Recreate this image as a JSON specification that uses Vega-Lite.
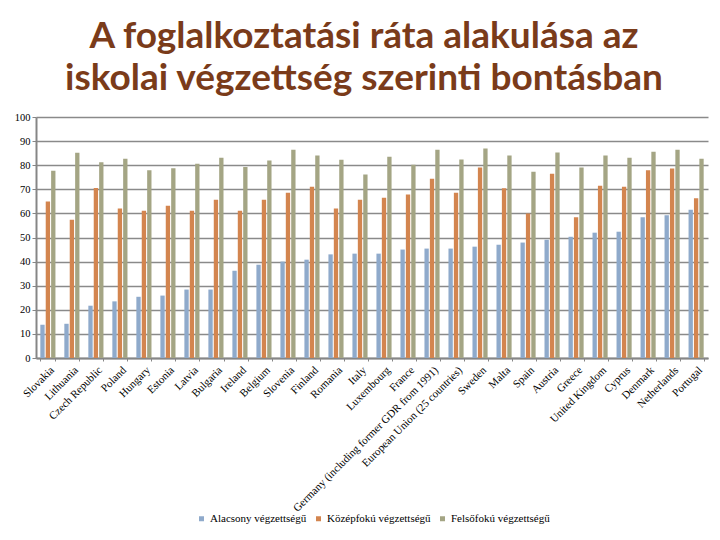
{
  "$schema": "https://vega.github.io/schema/vega-lite/v6.json",
  "width": 672,
  "height": 241,
  "autosize": {"type": "none"},
  "padding": {"left": 36, "top": 117, "right": 12, "bottom": 182},
  "background": "white",
  "title": {
    "text": ["A foglalkoztatási ráta alakulása az", "iskolai végzettség szerinti bontásban"],
    "font": "Lato",
    "fontWeight": "bold",
    "fontSize": 37,
    "color": "#7A3B1A",
    "anchor": "middle",
    "frame": "group",
    "dx": -8,
    "offset": 14,
    "lineHeight": 42
  },
  "data": {
    "values": [
      {"country": "Slovakia", "Alacsony végzettségű": 13.8, "Középfokú végzettségű": 64.9, "Felsőfokú végzettségű": 77.7},
      {"country": "Lithuania", "Alacsony végzettségű": 14.2, "Középfokú végzettségű": 57.4, "Felsőfokú végzettségű": 85.2},
      {"country": "Czech Republic", "Alacsony végzettségű": 21.7, "Középfokú végzettségű": 70.5, "Felsőfokú végzettségű": 81.2},
      {"country": "Poland", "Alacsony végzettségű": 23.5, "Középfokú végzettségű": 62.0, "Felsőfokú végzettségű": 82.7},
      {"country": "Hungary", "Alacsony végzettségű": 25.4, "Középfokú végzettségű": 61.1, "Felsőfokú végzettségű": 77.9},
      {"country": "Estonia", "Alacsony végzettségű": 25.9, "Középfokú végzettségű": 63.2, "Felsőfokú végzettségű": 78.7},
      {"country": "Latvia", "Alacsony végzettségű": 28.4, "Középfokú végzettségű": 61.1, "Felsőfokú végzettségű": 80.6},
      {"country": "Bulgaria", "Alacsony végzettségű": 28.4, "Középfokú végzettségű": 65.7, "Felsőfokú végzettségű": 83.1},
      {"country": "Ireland", "Alacsony végzettségű": 36.2, "Középfokú végzettségű": 61.1, "Felsőfokú végzettségű": 79.3},
      {"country": "Belgium", "Alacsony végzettségű": 38.7, "Középfokú végzettségű": 65.7, "Felsőfokú végzettségű": 81.9},
      {"country": "Slovenia", "Alacsony végzettségű": 40.0, "Középfokú végzettségű": 68.6, "Felsőfokú végzettségű": 86.4},
      {"country": "Finland", "Alacsony végzettségű": 40.8, "Középfokú végzettségű": 71.1, "Felsőfokú végzettségű": 84.0},
      {"country": "Romania", "Alacsony végzettségű": 43.0, "Középfokú végzettségű": 62.0, "Felsőfokú végzettségű": 82.3},
      {"country": "Italy", "Alacsony végzettségű": 43.3, "Középfokú végzettségű": 65.7, "Felsőfokú végzettségű": 76.1},
      {"country": "Luxembourg", "Alacsony végzettségű": 43.3, "Középfokú végzettségű": 66.5, "Felsőfokú végzettségű": 83.5},
      {"country": "France", "Alacsony végzettségű": 45.0, "Középfokú végzettségű": 67.8, "Felsőfokú végzettségű": 80.2},
      {"country": "Germany (including  former GDR from 1991)", "Alacsony végzettségű": 45.4, "Középfokú végzettségű": 74.4, "Felsőfokú végzettségű": 86.4},
      {"country": "European Union (25 countries)", "Alacsony végzettségű": 45.4, "Középfokú végzettségű": 68.6, "Felsőfokú végzettségű": 82.4},
      {"country": "Sweden", "Alacsony végzettségű": 46.2, "Középfokú végzettségű": 79.0, "Felsőfokú végzettségű": 86.9},
      {"country": "Malta", "Alacsony végzettségű": 47.0, "Középfokú végzettségű": 70.4, "Felsőfokú végzettségű": 84.0},
      {"country": "Spain", "Alacsony végzettségű": 47.9, "Középfokú végzettségű": 60.0, "Felsőfokú végzettségű": 77.3},
      {"country": "Austria", "Alacsony végzettségű": 49.1, "Középfokú végzettségű": 76.5, "Felsőfokú végzettségű": 85.3},
      {"country": "Greece", "Alacsony végzettségű": 50.3, "Középfokú végzettségű": 58.4, "Felsőfokú végzettségű": 79.0},
      {"country": "United Kingdom", "Alacsony végzettségű": 52.0, "Középfokú végzettségű": 71.5, "Felsőfokú végzettségű": 84.0},
      {"country": "Cyprus", "Alacsony végzettségű": 52.4, "Középfokú végzettségű": 71.1, "Felsőfokú végzettségű": 83.1},
      {"country": "Denmark", "Alacsony végzettségű": 58.4, "Középfokú végzettségű": 77.9, "Felsőfokú végzettségű": 85.6},
      {"country": "Netherlands", "Alacsony végzettségű": 59.2, "Középfokú végzettségű": 78.6, "Felsőfokú végzettségű": 86.4},
      {"country": "Portugal", "Alacsony végzettségű": 61.5, "Középfokú végzettségű": 66.3, "Felsőfokú végzettségű": 82.7}
    ]
  },
  "transform": [
    {"fold": ["Alacsony végzettségű", "Középfokú végzettségű", "Felsőfokú végzettségű"], "as": ["group", "value"]}
  ],
  "mark": {"type": "bar"},
  "encoding": {
    "x": {
      "field": "country",
      "type": "nominal",
      "sort": null,
      "title": null,
      "scale": {"paddingInner": 0.37, "paddingOuter": 0.18},
      "axis": {
        "labelAngle": -45,
        "labelFont": "Liberation Serif",
        "labelFontSize": 11,
        "labelColor": "#000000",
        "labelLimit": 400,
        "labelPadding": 3,
        "tickBand": "extent",
        "tickSize": 3,
        "tickColor": "#868686",
        "domainColor": "#868686",
        "domainWidth": 2,
        "grid": false
      }
    },
    "xOffset": {
      "field": "group",
      "type": "nominal",
      "sort": ["Alacsony végzettségű", "Középfokú végzettségű", "Felsőfokú végzettségű"],
      "scale": {"paddingInner": 0.2}
    },
    "y": {
      "field": "value",
      "type": "quantitative",
      "title": null,
      "scale": {"domain": [0, 100]},
      "axis": {
        "values": [0, 10, 20, 30, 40, 50, 60, 70, 80, 90, 100],
        "labelFont": "Liberation Serif",
        "labelFontSize": 10.5,
        "labelColor": "#000000",
        "tickSize": 4,
        "tickColor": "#868686",
        "domainColor": "#868686",
        "domainWidth": 2,
        "gridColor": "#8A8A8A",
        "gridWidth": 1.5,
        "gridOpacity": 1
      }
    },
    "color": {
      "field": "group",
      "type": "nominal",
      "sort": ["Alacsony végzettségű", "Középfokú végzettségű", "Felsőfokú végzettségű"],
      "scale": {
        "domain": ["Alacsony végzettségű", "Középfokú végzettségű", "Felsőfokú végzettségű"],
        "range": ["#8FAACB", "#D3854F", "#A4A584"]
      },
      "legend": {
        "title": null,
        "orient": "none",
        "direction": "horizontal",
        "legendX": 160,
        "legendY": 396,
        "symbolType": "square",
        "symbolSize": 25,
        "symbolStrokeWidth": 0,
        "labelFont": "Liberation Serif",
        "labelFontSize": 11,
        "labelColor": "#000000",
        "columnPadding": 6,
        "labelOffset": 3
      }
    }
  },
  "config": {
    "view": {"stroke": null}
  }
}
